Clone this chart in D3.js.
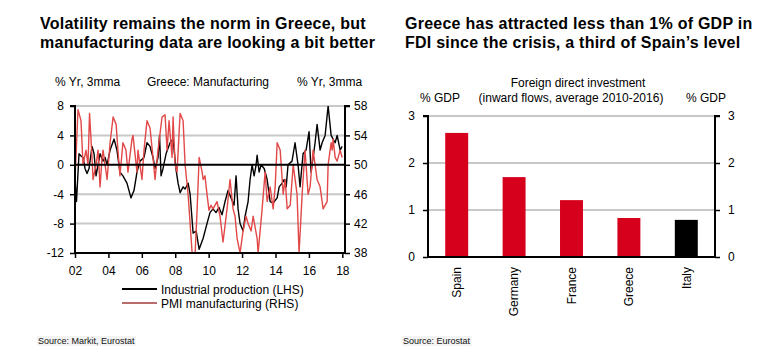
<!DOCTYPE html>
<html><head><meta charset="utf-8">
<script src="https://cdn.jsdelivr.net/npm/d3@7/dist/d3.min.js"></script>
<style>
body{margin:0;background:#fff;}
svg{display:block;font-family:"Liberation Sans",Arial,sans-serif;}
</style></head>
<body><svg id="c" width="762" height="354"></svg>
<script>
// ---------- Data: left chart ----------
const ipYears = [2002.00,2002.09,2002.24,2002.36,2002.48,2002.60,2002.72,2002.84,2003.02,2003.14,2003.26,2003.38,2003.50,2003.68,2003.80,2003.92,2004.10,2004.34,2004.51,2004.69,2004.87,2005.11,2005.35,2005.53,2005.71,2005.89,2006.13,2006.31,2006.49,2006.67,2006.79,2006.97,2007.06,2007.15,2007.27,2007.45,2007.69,2007.87,2008.05,2008.17,2008.29,2008.47,2008.59,2008.77,2008.89,2009.07,2009.25,2009.43,2009.67,2009.90,2010.08,2010.26,2010.44,2010.62,2010.80,2010.98,2011.16,2011.34,2011.52,2011.64,2011.76,2011.88,2012.06,2012.18,2012.36,2012.48,2012.60,2012.72,2012.84,2012.90,2013.02,2013.14,2013.32,2013.50,2013.68,2013.86,2014.10,2014.22,2014.40,2014.52,2014.64,2014.75,2014.99,2015.17,2015.35,2015.47,2015.65,2015.83,2016.01,2016.13,2016.37,2016.49,2016.67,2016.79,2016.97,2017.15,2017.33,2017.57,2017.69,2017.87,2017.99];
const ipValues = [-2,-5,1.5,1.2,1,-0.5,-1.2,-0.5,2.5,1.5,-1.5,0,1.5,0.5,1,0,2,3.5,2,-1,-1.5,-2.5,-4.5,-3.5,-1,0.5,1,3,2.5,1,-0.5,1,4,-1.5,-0.5,1.5,3,3.5,-0.7,-2.5,-3.8,-3,-3.3,-2.5,-4,-9.3,-9,-11.5,-10,-8,-6.5,-6,-6.5,-5.8,-6.8,-5,-3.5,-4.5,-5.5,-1.5,-6,-8,-9,-7,-5,-2,0,-1.5,0,1.3,-1,0,-0.5,-2,-5,-5.2,-4.5,-3,-2.5,-2,-3,0,0.5,3,0,-3,1.5,2,4.5,-1,3,5.5,2,3,4,8,4,3,4,2,2.5];

const pmiYears = [2002.00,2002.18,2002.36,2002.48,2002.66,2002.78,2002.87,2003.02,2003.08,2003.26,2003.38,2003.50,2003.62,2003.68,2003.80,2003.92,2004.10,2004.28,2004.46,2004.57,2004.69,2004.87,2005.05,2005.17,2005.41,2005.47,2005.71,2005.77,2006.01,2006.13,2006.31,2006.49,2006.67,2006.79,2006.97,2007.21,2007.39,2007.51,2007.63,2007.81,2007.87,2007.99,2008.11,2008.29,2008.47,2008.59,2008.77,2009.01,2009.19,2009.31,2009.43,2009.61,2009.67,2009.78,2009.90,2010.02,2010.14,2010.26,2010.50,2010.68,2010.86,2011.10,2011.28,2011.46,2011.58,2011.70,2011.88,2012.06,2012.24,2012.36,2012.54,2012.66,2012.90,2012.96,2013.20,2013.38,2013.50,2013.68,2013.86,2013.98,2014.10,2014.28,2014.46,2014.58,2014.70,2014.88,2015.06,2015.29,2015.41,2015.62,2015.77,2015.95,2016.07,2016.25,2016.49,2016.67,2016.85,2017.09,2017.15,2017.33,2017.39,2017.45,2017.57,2017.69,2017.87,2017.99,2018.05];
const pmiValues = [48,57.5,56,50,52,50,57,51,48,50,52,47,51,52,50,48,53,56.5,55.5,52,48.5,53,52,49,53.5,54,49,52,48,52,56,55,51,48,52,56.5,56.8,52,56,51,56.5,50,49,57,56,50,46,38,38,44,51,49,48,48.5,46,43.8,44.5,44,45,43,39.5,44,48,44,43,40,38,41,43,42,41,43,40,38,44,49,45,47,44,47,53,52,46,48,44,44.5,50,46,38,47,52,46,47,52,48,47,44,45,50,53,52,53.5,51,50.5,52,51];

const ipTicks = [8,4,0,-4,-8,-12];
const pmiTicks = [58,54,50,46,42,38];
const yearTicks = [2002,2004,2006,2008,2010,2012,2014,2016,2018];

// ---------- Data: right chart ----------
const countries = ["Spain","Germany","France","Greece","Italy"];
const fdiValues = [2.64,1.70,1.21,0.83,0.79];
const fdiTicks = [0,1,2,3];

const svg = d3.select("#c");
const RED_LINE = "#e24848", RED_BAR = "#d7001c", GRID = "#c8c8c8";

// ---------- Titles ----------
function title(x, lines){
  lines.forEach((l,i)=>svg.append("text").attr("x",x).attr("y",29 + i*18.5)
    .attr("font-size","16px").attr("font-weight","bold").attr("letter-spacing","0.25px")
    .attr("fill","#000").text(l));
}
title(40,["Volatility remains the norm in Greece, but","manufacturing data are looking a bit better"]);
title(405,["Greece has attracted less than 1% of GDP in","FDI since the crisis, a third of Spain\u2019s level"]);

// ---------- Left chart ----------
const L = {l:75, r:345, t:106, b:253};
const x = d3.scaleLinear().domain([2002, 2018.16]).range([L.l, L.r]);
const yL = d3.scaleLinear().domain([-12, 8]).range([L.b, L.t]);
const yR = d3.scaleLinear().domain([38, 58]).range([L.b, L.t]);

const gl = svg.append("g").attr("font-size","12px");
gl.append("text").attr("x",55).attr("y",86).text("% Yr, 3mma");
gl.append("text").attr("x",208).attr("y",86).attr("text-anchor","middle").text("Greece: Manufacturing");
gl.append("text").attr("x",297).attr("y",86).text("% Yr, 3mma");

// grid
gl.append("g").selectAll("line").data(ipTicks.filter(d=>d!==0 && d!==-12)).join("line")
  .attr("x1",L.l).attr("x2",L.r).attr("y1",d=>yL(d)).attr("y2",d=>yL(d))
  .attr("stroke",GRID).attr("stroke-width",2);

svg.append("defs").append("clipPath").attr("id","clipL").append("rect")
  .attr("x",L.l).attr("y",L.t).attr("width",L.r-L.l).attr("height",L.b-L.t);

const ipData = ipYears.map((d,i)=>[d,ipValues[i]]);
const pmiData = pmiYears.map((d,i)=>[d,pmiValues[i]]);
const lines = gl.append("g").attr("clip-path","url(#clipL)");
lines.append("path").datum(ipData)
  .attr("d", d3.line().x(d=>x(d[0])).y(d=>yL(d[1])))
  .attr("fill","none").attr("stroke","#000").attr("stroke-width",1.4).attr("stroke-linejoin","round");
lines.append("path").datum(pmiData)
  .attr("d", d3.line().x(d=>x(d[0])).y(d=>yR(d[1])))
  .attr("fill","none").attr("stroke",RED_LINE).attr("stroke-width",1.4).attr("stroke-linejoin","round");

// zero line
gl.append("line").attr("x1",L.l).attr("x2",L.r).attr("y1",yL(0)).attr("y2",yL(0))
  .attr("stroke","#000").attr("stroke-width",2);

// axes
const plain = d=>String(d);
const axL = d3.axisLeft(yL).tickValues(ipTicks).tickSize(5).tickPadding(6).tickFormat(plain);
const axR = d3.axisRight(yR).tickValues(pmiTicks).tickSize(5).tickPadding(4).tickFormat(plain);
const axB = d3.axisBottom(x).tickValues(yearTicks).tickSize(5).tickPadding(8)
  .tickFormat(d=>String(d%100).padStart(2,"0"));
function styleAxis(g){
  g.attr("font-size","12px").attr("font-family","Liberation Sans, Arial, sans-serif");
  g.select(".domain").attr("stroke","#000").attr("stroke-width",2);
  g.selectAll(".tick line").attr("stroke","#000").attr("stroke-width",1.5);
  g.selectAll(".tick text").attr("fill","#000");
}
gl.append("g").attr("transform",`translate(${L.l},0)`).call(axL).call(styleAxis)
  .select(".domain").attr("d",`M-5,${L.t}H0V${L.b}`);
gl.append("g").attr("transform",`translate(${L.r},0)`).call(axR).call(styleAxis)
  .select(".domain").attr("d",`M5,${L.t}H0V${L.b}`);
gl.append("g").attr("transform",`translate(0,${L.b})`).call(axB).call(styleAxis)
  .select(".domain").attr("d",`M${L.l},0H${L.r}`);

// legend
const leg = [{name:"Industrial production (LHS)", c:"#000", y:289},{name:"PMI manufacturing (RHS)", c:"#b86c6c", y:303}];
leg.forEach(d=>{
  gl.append("line").attr("x1",122).attr("x2",157).attr("y1",d.y).attr("y2",d.y)
    .attr("stroke",d.c).attr("stroke-width",2);
  gl.append("text").attr("x",161).attr("y",d.y+4.5).text(d.name);
});

// sources
function source(xp, txt){
  const t = svg.append("text").attr("x",xp).attr("y",344).attr("font-size","9px").attr("fill","#111").text(txt);
  const bb = t.node().getBBox();
  svg.insert("rect","text").attr("x",bb.x-1).attr("y",bb.y).attr("width",bb.width+2).attr("height",bb.height)
    .attr("fill","#f3f3f3");
}
source(38,"Source: Markit, Eurostat");
source(403,"Source: Eurostat");

// ---------- Right chart ----------
const R = {l:428, r:715, t:116, b:257};
const xb = d3.scaleBand().domain(countries).range([R.l, R.r]).paddingInner(0.6).paddingOuter(0.3);
const yb = d3.scaleLinear().domain([0,3]).range([R.b, R.t]);
const gr = svg.append("g").attr("font-size","12px");

gr.append("text").attr("x",578).attr("y",87).attr("text-anchor","middle").text("Foreign direct investment");
gr.append("text").attr("x",571).attr("y",102).attr("text-anchor","middle").text("(inward flows, average 2010-2016)");
gr.append("text").attr("x",440).attr("y",102).attr("text-anchor","middle").text("% GDP");
gr.append("text").attr("x",706).attr("y",102).attr("text-anchor","middle").text("% GDP");

gr.append("g").selectAll("line").data(fdiTicks.filter(d=>d>0)).join("line")
  .attr("x1",R.l).attr("x2",R.r).attr("y1",d=>yb(d)).attr("y2",d=>yb(d))
  .attr("stroke",GRID).attr("stroke-width",2);

gr.append("g").selectAll("rect").data(countries).join("rect")
  .attr("x",d=>xb(d)).attr("width",xb.bandwidth())
  .attr("y",(d,i)=>yb(fdiValues[i])).attr("height",(d,i)=>yb(0)-yb(fdiValues[i]))
  .attr("fill",d=>d==="Italy"?"#000":RED_BAR);

const bL = d3.axisLeft(yb).tickValues(fdiTicks).tickSize(5).tickPadding(8).tickFormat(plain);
const bR = d3.axisRight(yb).tickValues(fdiTicks).tickSize(5).tickPadding(8).tickFormat(plain);
gr.append("g").attr("transform",`translate(${R.l},0)`).call(bL).call(styleAxis)
  .select(".domain").attr("d",`M-5,${R.t}H0V${R.b}`);
gr.append("g").attr("transform",`translate(${R.r},0)`).call(bR).call(styleAxis)
  .select(".domain").attr("d",`M5,${R.t}H0V${R.b}`);
const bB = d3.axisBottom(xb).tickSize(0).tickPadding(0);
const gB = gr.append("g").attr("transform",`translate(0,${R.b})`).call(bB).call(styleAxis);
gB.select(".domain").attr("d",`M${R.l},0H${R.r}`);
gB.selectAll(".tick text").attr("transform","rotate(-90)").attr("text-anchor","end")
  .attr("x",-10).attr("y",0).attr("dy","0.35em");
</script></body></html>
